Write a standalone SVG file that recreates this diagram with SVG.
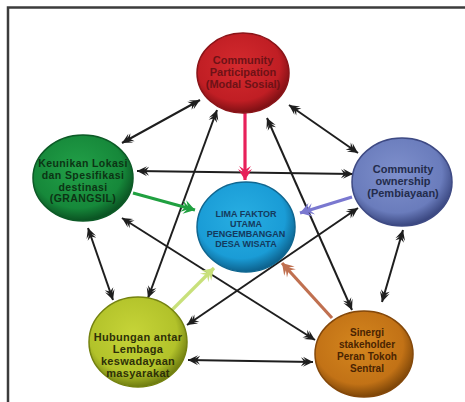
<svg xmlns="http://www.w3.org/2000/svg" width="465" height="402" viewBox="0 0 465 402">
<defs>
<style>
.frame{fill:none;stroke:#3c3c3c;stroke-width:2.5}
.bl{stroke:#1e1e1e;stroke-width:2;fill:none;marker-start:url(#ah);marker-end:url(#ah)}
.col{stroke-width:3.2;fill:none}
.node{stroke-width:1.5}
text{font-family:"Liberation Sans",Arial,sans-serif;font-weight:bold;text-anchor:middle}
</style>
<marker id="ah" markerUnits="userSpaceOnUse" viewBox="-13 -6 14 12" markerWidth="14" markerHeight="12" refX="0" refY="0" orient="auto-start-reverse">
<path d="M0,0 L-10,-5 L-7,-1.5 L-12,-4.5 L-9,0 L-12,4.5 L-7,1.5 L-10,5 Z" fill="#1e1e1e"/>
</marker>
<marker id="ap" markerUnits="userSpaceOnUse" viewBox="-15 -8 16 16" markerWidth="16" markerHeight="16" refX="0" refY="0" orient="auto">
<path d="M0,0 L-11,-7 L-8,-2 L-14,-6 L-10,0 L-14,6 L-8,2 L-11,7 Z" fill="#e8205a"/>
</marker>
<marker id="ag" markerUnits="userSpaceOnUse" viewBox="-15 -8 16 16" markerWidth="16" markerHeight="16" refX="0" refY="0" orient="auto">
<path d="M0,0 L-11,-7 L-8,-2 L-14,-6 L-10,0 L-14,6 L-8,2 L-11,7 Z" fill="#20a040"/>
</marker>
<marker id="av" markerUnits="userSpaceOnUse" viewBox="-15 -8 16 16" markerWidth="16" markerHeight="16" refX="0" refY="0" orient="auto">
<path d="M0,0 L-11,-7 L-8,-2 L-14,-6 L-10,0 L-14,6 L-8,2 L-11,7 Z" fill="#7a78d0"/>
</marker>
<marker id="ay" markerUnits="userSpaceOnUse" viewBox="-15 -8 16 16" markerWidth="16" markerHeight="16" refX="0" refY="0" orient="auto">
<path d="M0,0 L-11,-7 L-8,-2 L-14,-6 L-10,0 L-14,6 L-8,2 L-11,7 Z" fill="#c8e07a"/>
</marker>
<marker id="ab" markerUnits="userSpaceOnUse" viewBox="-15 -8 16 16" markerWidth="16" markerHeight="16" refX="0" refY="0" orient="auto">
<path d="M0,0 L-11,-7 L-8,-2 L-14,-6 L-10,0 L-14,6 L-8,2 L-11,7 Z" fill="#c07050"/>
</marker>
<radialGradient id="gRed" cx="0.45" cy="0.4" r="0.6">
<stop offset="0" stop-color="#d42a2e"/><stop offset="0.75" stop-color="#c01e24"/><stop offset="1" stop-color="#7e1014"/>
</radialGradient>
<radialGradient id="gGreen" cx="0.45" cy="0.4" r="0.6">
<stop offset="0" stop-color="#22a048"/><stop offset="0.75" stop-color="#16883a"/><stop offset="1" stop-color="#0a5222"/>
</radialGradient>
<radialGradient id="gPur" cx="0.45" cy="0.4" r="0.6">
<stop offset="0" stop-color="#7f90cc"/><stop offset="0.75" stop-color="#6a7cbc"/><stop offset="1" stop-color="#3a4780"/>
</radialGradient>
<radialGradient id="gBlue" cx="0.45" cy="0.4" r="0.6">
<stop offset="0" stop-color="#28aee2"/><stop offset="0.75" stop-color="#1a9cd6"/><stop offset="1" stop-color="#0d628e"/>
</radialGradient>
<radialGradient id="gYel" cx="0.45" cy="0.4" r="0.6">
<stop offset="0" stop-color="#c6d438"/><stop offset="0.75" stop-color="#b2c22a"/><stop offset="1" stop-color="#6e7c10"/>
</radialGradient>
<radialGradient id="gOra" cx="0.45" cy="0.4" r="0.6">
<stop offset="0" stop-color="#d4861e"/><stop offset="0.75" stop-color="#c27216"/><stop offset="1" stop-color="#7e4608"/>
</radialGradient>
</defs>
<rect x="0" y="0" width="465" height="402" fill="#ffffff"/>
<path class="frame" d="M8,402 L8,7.5 L465,7.5"/>

<g id="connectors">
<line class="bl" x1="200" y1="100" x2="122" y2="143"/>
<line class="bl" x1="289" y1="105" x2="358" y2="153"/>
<line class="bl" x1="137" y1="171" x2="353" y2="174"/>
<line class="bl" x1="88" y1="228" x2="113" y2="300"/>
<line class="bl" x1="403" y1="230" x2="382" y2="302"/>
<line class="bl" x1="188" y1="360" x2="313" y2="362"/>
<line class="bl" x1="217" y1="110" x2="148" y2="298"/>
<line class="bl" x1="267" y1="118" x2="352" y2="310"/>
<line class="bl" x1="122" y1="218" x2="315" y2="340"/>
<line class="bl" x1="358" y1="208" x2="187" y2="325"/>
<line class="col" stroke="#e8205a" x1="245" y1="113" x2="245" y2="180" marker-end="url(#ap)"/>
<line class="col" stroke="#20a040" x1="133" y1="193" x2="195" y2="210" marker-end="url(#ag)"/>
<line class="col" stroke="#7a78d0" x1="352" y1="197" x2="300" y2="213" marker-end="url(#av)"/>
<line class="col" stroke="#c8e07a" x1="170" y1="312" x2="214" y2="268" marker-end="url(#ay)"/>
<line class="col" stroke="#c07050" x1="332" y1="318" x2="282" y2="263" marker-end="url(#ab)"/>
</g>

<g id="node-participation">
<ellipse class="node" cx="243" cy="73" rx="46" ry="40" fill="url(#gRed)" stroke="#8a1418"/>
<text font-size="11" fill="#6e1216"><tspan x="243" y="64">Community</tspan><tspan x="243" y="76">Participation</tspan><tspan x="243" y="88">(Modal Sosial)</tspan></text>
</g>
<g id="node-keunikan">
<ellipse class="node" cx="83" cy="178" rx="50" ry="43" fill="url(#gGreen)" stroke="#0c5a26"/>
<text font-size="10.5" fill="#0c3414" letter-spacing="0.4"><tspan x="83" y="167">Keunikan Lokasi</tspan><tspan x="83" y="179">dan Spesifikasi</tspan><tspan x="83" y="191">destinasi</tspan><tspan x="83" y="202">(GRANGSIL)</tspan></text>
</g>
<g id="node-ownership">
<ellipse class="node" cx="402" cy="182" rx="50" ry="44" fill="url(#gPur)" stroke="#3e4a84"/>
<text font-size="11" fill="#232c4c"><tspan x="403" y="173">Community</tspan><tspan x="403" y="185">ownership</tspan><tspan x="403" y="197">(Pembiayaan)</tspan></text>
</g>
<g id="node-center">
<ellipse class="node" cx="246" cy="227" rx="49" ry="45" fill="url(#gBlue)" stroke="#0f6690"/>
<text font-size="9" fill="#143a5e"><tspan x="246" y="217">LIMA FAKTOR</tspan><tspan x="246" y="227">UTAMA</tspan><tspan x="246" y="237">PENGEMBANGAN</tspan><tspan x="246" y="247">DESA WISATA</tspan></text>
</g>
<g id="node-hubungan">
<ellipse class="node" cx="138" cy="342" rx="49" ry="45" fill="url(#gYel)" stroke="#74820f"/>
<text font-size="11" fill="#2e3008" letter-spacing="0.3"><tspan x="138" y="341">Hubungan antar</tspan><tspan x="138" y="353">Lembaga</tspan><tspan x="138" y="365">keswadayaan</tspan><tspan x="138" y="377">masyarakat</tspan></text>
</g>
<g id="node-sinergi">
<ellipse class="node" cx="364" cy="354" rx="49" ry="43" fill="url(#gOra)" stroke="#84480a"/>
<text font-size="10" fill="#4a2402"><tspan x="367" y="336">Sinergi</tspan><tspan x="367" y="348">stakeholder</tspan><tspan x="367" y="360">Peran Tokoh</tspan><tspan x="367" y="372">Sentral</tspan></text>
</g>
</svg>
